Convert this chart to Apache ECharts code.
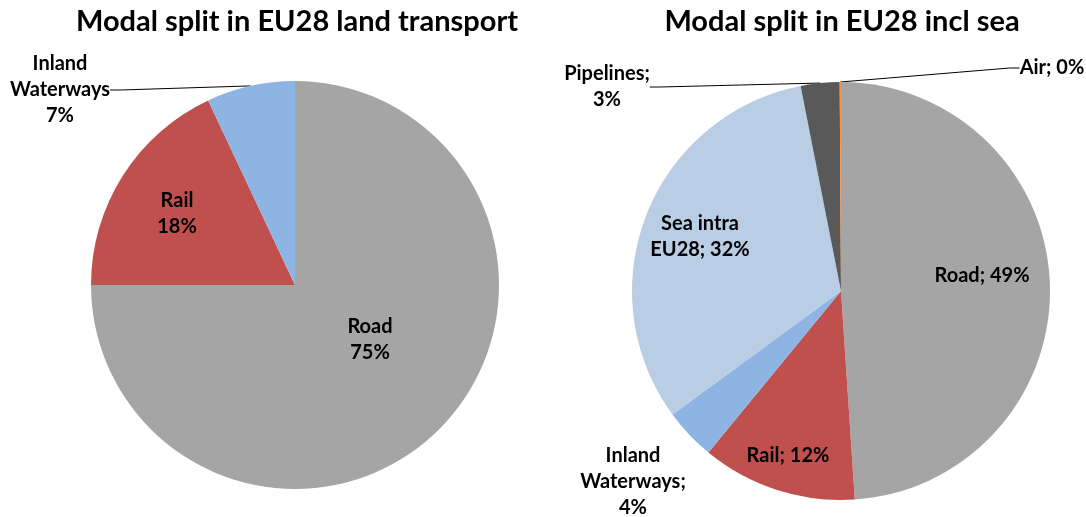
<!DOCTYPE html>
<html lang="en">
<head>
    <meta charset="UTF-8">
    <title>Modal split in EU28</title>
    <script src="https://cdn.jsdelivr.net/npm/echarts@6/dist/echarts.min.js"></script>
    <style>
        html, body { margin: 0; padding: 0; background: #fff; }
        #chart { width: 1086px; height: 517px; }
    </style>
</head>
<body>
<div id="chart"></div>
<script>
    // land transport (left pie)
    let landModes = ['Road', 'Rail', 'Inland Waterways'];
    let landShares = [75, 18, 7];
    let landLabels = ['Road', 'Rail', 'Inland\nWaterways'];

    // incl sea (right pie)
    let seaModes = ['Road', 'Rail', 'Inland Waterways', 'Sea intra EU28', 'Pipelines', 'Air'];
    let seaShares = [49, 12, 4, 32, 3, 0.1];
    let seaLabels = ['Road; ', 'Rail; ', 'Inland\nWaterways;\n', 'Sea intra\nEU28; ', 'Pipelines;\n', 'Air; '];

    let colors = {
        'Road': '#A5A5A5',
        'Rail': '#C0504D',
        'Inland Waterways': '#8EB4E3',
        'Sea intra EU28': '#B9CDE5',
        'Pipelines': '#595959',
        'Air': '#F79646'
    };

    // pie geometry
    let pies = [
        {center: [295, 285], r: 204},
        {center: [841, 291], r: 209}
    ];
    // label centres relative to pie centre (px), Excel-like placement
    let labelOffsets = [
        [[75, 55], [-118, -71], [-235, -195]],
        [[141, -15], [-53, 165], [-208, 191], [-141, -54], [-234, -204], [211, -223]]
    ];
    let outsideLabels = [
        [false, false, true],
        [false, false, true, false, true, true]
    ];
    let showLine = [
        [false, false, true],
        [false, false, false, false, true, true]
    ];

    function buildData(names, values, s) {
        return names.map(function (n, i) {
            return {
                name: n,
                value: values[i],
                itemStyle: {color: colors[n]},
                label: {position: outsideLabels[s][i] ? 'outside' : 'inside'},
                labelLine: {show: showLine[s][i]}
            };
        });
    }

    let labelStyle = {
        color: '#000',
        fontFamily: 'Lato',
        fontWeight: 'bold',
        fontSize: 20,
        lineHeight: 26,
        align: 'center'
    };

    let titleStyle = {fontFamily: 'Lato', fontWeight: 'bold', fontSize: 29, color: '#000'};

    let myChart = echarts.init(document.getElementById('chart'));
    myChart.setOption({
        animation: false,
        title: [
            {text: 'Modal split in EU28 land transport', left: 292, top: 2, textAlign: 'center', textStyle: titleStyle},
            {text: 'Modal split in EU28 incl sea', left: 837, top: 2, textAlign: 'center', textStyle: titleStyle}
        ],
        series: [
            {
                type: 'pie',
                center: pies[0].center,
                radius: pies[0].r,
                startAngle: 90,
                clockwise: true,
                data: buildData(landModes, landShares, 0),
                label: Object.assign({
                    formatter: function (p) {
                        return landLabels[p.dataIndex] + '\n' + Math.round(p.percent) + '%';
                    }
                }, labelStyle),
                labelLine: {lineStyle: {color: '#000', width: 1}, length: 10, length2: 10},
                labelLayout: function (params) {
                    let o = labelOffsets[0][params.dataIndex];
                    return {
                        x: pies[0].center[0] + o[0],
                        y: pies[0].center[1] + o[1],
                        align: 'center',
                        verticalAlign: 'middle'
                    };
                },
                emphasis: {disabled: true}
            },
            {
                type: 'pie',
                center: pies[1].center,
                radius: pies[1].r,
                startAngle: 90,
                clockwise: true,
                data: buildData(seaModes, seaShares, 1),
                label: Object.assign({
                    formatter: function (p) {
                        return seaLabels[p.dataIndex] + Math.round(p.percent) + '%';
                    }
                }, labelStyle),
                labelLine: {lineStyle: {color: '#000', width: 1}, length: 10, length2: 10},
                labelLayout: function (params) {
                    let o = labelOffsets[1][params.dataIndex];
                    return {
                        x: pies[1].center[0] + o[0],
                        y: pies[1].center[1] + o[1],
                        align: 'center',
                        verticalAlign: 'middle'
                    };
                },
                emphasis: {disabled: true}
            }
        ]
    });
</script>
</body>
</html>
